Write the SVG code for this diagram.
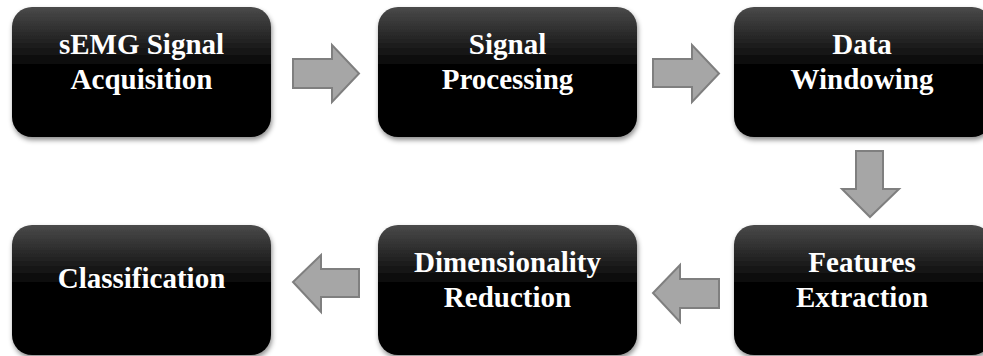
<svg xmlns="http://www.w3.org/2000/svg" width="983" height="356" viewBox="0 0 983 356">
<defs>
<linearGradient id="g" x1="0" y1="0" x2="0" y2="1">
<stop offset="0" stop-color="#4a4a4a"/>
<stop offset="0.45" stop-color="#050505"/>
<stop offset="1" stop-color="#000"/>
</linearGradient>
<filter id="sh" x="-10%" y="-10%" width="125%" height="130%">
<feDropShadow dx="1" dy="3" stdDeviation="2.5" flood-color="#000" flood-opacity="0.45"/>
</filter>
</defs>
<style>
.box{fill:url(#g);filter:url(#sh)}
.t{font-family:"Liberation Serif","Times New Roman",serif;font-weight:bold;font-size:29px;fill:#fff;text-anchor:middle}
.ar{fill:#a6a6a6;stroke:#7f7f7f;stroke-width:2;stroke-linejoin:miter}
</style>
<g id="n1"><rect class="box" x="12" y="7" width="259" height="130" rx="20"/><text class="t" x="141.5" y="54">sEMG Signal</text><text class="t" x="141.5" y="89">Acquisition</text></g>
<g id="n2"><rect class="box" x="378" y="7" width="259" height="130" rx="20"/><text class="t" x="507.5" y="54">Signal</text><text class="t" x="507.5" y="89">Processing</text></g>
<g id="n3"><rect class="box" x="734" y="7" width="258" height="130" rx="20"/><text class="t" x="862" y="54">Data</text><text class="t" x="862" y="89">Windowing</text></g>
<g id="n4"><rect class="box" x="734" y="225" width="258" height="130" rx="20"/><text class="t" x="862" y="272">Features</text><text class="t" x="862" y="307">Extraction</text></g>
<g id="n5"><rect class="box" x="378" y="225" width="259" height="130" rx="20"/><text class="t" x="507.5" y="272">Dimensionality</text><text class="t" x="507.5" y="307">Reduction</text></g>
<g id="n6"><rect class="box" x="12" y="225" width="259" height="130" rx="20"/><text class="t" x="141.5" y="288">Classification</text></g>
<g id="connectors">
<polygon class="ar" points="293,59 332,59 332,45 359,73.5 332,102 332,88 293,88"/>
<polygon class="ar" points="653,59 692,59 692,45 719,73.5 692,102 692,87 653,87"/>
<polygon class="ar" points="856,151 883,151 883,189 899,189 870,217 842,189 856,189"/>
<polygon class="ar" points="719,279 680,279 680,265 653,293 680,322 680,308 719,308"/>
<polygon class="ar" points="359,269 321,269 321,255 293,282 321,312 321,297 359,297"/>
</g>
</svg>
